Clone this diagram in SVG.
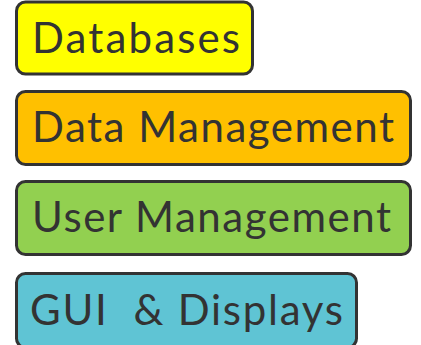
<svg xmlns="http://www.w3.org/2000/svg" width="421" height="345" viewBox="0 0 421 345">
<style>
.box{stroke:#333333;stroke-width:3}
.lbl{font-family:Lato,"DejaVu Sans",sans-serif;font-size:42px;fill:#333333}
</style>
<rect width="421" height="345" fill="#ffffff"/>
<g id="databases">
<rect class="box" x="16.5" y="2" width="236" height="72" rx="9" fill="#FFFF00"/>
<text class="lbl" x="32" y="53" textLength="208" lengthAdjust="spacing">Databases</text>
</g>
<g id="data-management">
<rect class="box" x="16.5" y="91.5" width="394" height="73" rx="9" fill="#FFC000"/>
<text class="lbl" x="32" y="142" textLength="362" lengthAdjust="spacing">Data Management</text>
</g>
<g id="user-management">
<rect class="box" x="16.5" y="181.5" width="394" height="73" rx="9" fill="#92D050"/>
<text class="lbl" x="32" y="232" textLength="359" lengthAdjust="spacing">User Management</text>
</g>
<g id="gui-displays">
<rect class="box" x="16.5" y="273.5" width="340" height="74" rx="9" fill="#5FC4D4"/>
<text class="lbl" x="30" y="325" textLength="313" lengthAdjust="spacing" xml:space="preserve">GUI  &amp; Displays</text>
</g>
<g id="connectors"></g>
</svg>
